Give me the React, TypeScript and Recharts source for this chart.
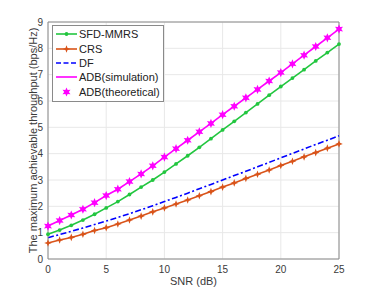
import {
  LineChart,
  Line,
  XAxis,
  YAxis,
  CartesianGrid,
  ReferenceLine,
} from "recharts";

const snr = [0, 1, 2, 3, 4, 5, 6, 7, 8, 9, 10, 11, 12, 13, 14, 15, 16, 17, 18, 19, 20, 21, 22, 23, 24, 25];

const sfdMmrs = [0.94, 1.1, 1.28, 1.48, 1.7, 1.94, 2.18, 2.45, 2.73, 3.0, 3.3, 3.61, 3.92, 4.24, 4.57, 4.9, 5.23, 5.56, 5.89, 6.22, 6.55, 6.87, 7.19, 7.52, 7.84, 8.16];
const crs = [0.61, 0.72, 0.82, 0.94, 1.08, 1.19, 1.33, 1.48, 1.63, 1.79, 1.94, 2.09, 2.24, 2.4, 2.56, 2.73, 2.89, 3.06, 3.22, 3.38, 3.55, 3.71, 3.88, 4.04, 4.21, 4.37];
const df = [0.81, 0.93, 1.05, 1.18, 1.31, 1.44, 1.58, 1.72, 1.87, 2.02, 2.18, 2.34, 2.5, 2.67, 2.83, 3.0, 3.17, 3.33, 3.5, 3.67, 3.84, 4.01, 4.18, 4.35, 4.51, 4.68];
const adbSim = [1.25, 1.46, 1.67, 1.89, 2.14, 2.41, 2.65, 2.94, 3.23, 3.54, 3.87, 4.19, 4.51, 4.83, 5.15, 5.48, 5.8, 6.12, 6.44, 6.76, 7.08, 7.41, 7.74, 8.07, 8.4, 8.73];
const adbTheory = [1.25, 1.46, 1.67, 1.89, 2.14, 2.41, 2.65, 2.94, 3.23, 3.54, 3.87, 4.19, 4.51, 4.83, 5.15, 5.48, 5.8, 6.12, 6.44, 6.76, 7.08, 7.41, 7.74, 8.07, 8.4, 8.73];

const xTicks = [0, 5, 10, 15, 20, 25];
const yTicks = [0, 1, 2, 3, 4, 5, 6, 7, 8, 9];

const GREEN = "#22c63f";
const ORANGE = "#d95319";
const BLUE = "#0000ff";
const MAGENTA = "#ff00ff";
const AXIS = "#8a8a8a";
const TEXT = "#3a3a3a";
const FONT = '"Liberation Sans", Arial, sans-serif';

const data = snr.map((s, i) => ({
  snr: s,
  sfd: sfdMmrs[i],
  crs: crs[i],
  df: df[i],
  adbSim: adbSim[i],
  adbTheory: adbTheory[i],
}));

// star-ish polygon around (cx, cy)
const starPath = (cx: number, cy: number, n: number, ro: number, ri: number) => {
  const pts: string[] = [];
  for (let k = 0; k < n * 2; k++) {
    const r = k % 2 === 0 ? ro : ri;
    const a = -Math.PI / 2 + (k * Math.PI) / n;
    pts.push(`${(cx + r * Math.cos(a)).toFixed(2)},${(cy + r * Math.sin(a)).toFixed(2)}`);
  }
  return "M" + pts.join("L") + "Z";
};

const GreenDot = (p: any) => (
  <circle key={`g${p.index}`} cx={p.cx} cy={p.cy} r={1.9} fill={GREEN} stroke="none" />
);
const OrangeMark = (p: any) => (
  <path key={`o${p.index}`} d={starPath(p.cx, p.cy, 4, 3.8, 1.5)} fill={ORANGE} stroke="none" />
);
const MagentaStar = (p: any) => (
  <path key={`m${p.index}`} d={starPath(p.cx, p.cy, 6, 4.6, 2.3)} fill={MAGENTA} stroke="none" />
);

const legendItems = [
  { name: "SFD-MMRS", color: GREEN, dash: undefined, line: true, mark: "dot" },
  { name: "CRS", color: ORANGE, dash: undefined, line: true, mark: "diamond" },
  { name: "DF", color: BLUE, dash: "5 2.5", line: true, mark: "" },
  { name: "ADB(simulation)", color: MAGENTA, dash: undefined, line: true, mark: "" },
  { name: "ADB(theoretical)", color: MAGENTA, dash: undefined, line: false, mark: "star" },
];

const LegendBox = () => (
  <div
    style={{
      position: "absolute",
      left: 52,
      top: 25,
      border: `1px solid ${AXIS}`,
      background: "#fff",
      padding: "1px 3px 2px 2px",
      fontFamily: FONT,
      fontSize: 11,
      color: "#222",
    }}
  >
    {legendItems.map((it) => (
      <div key={it.name} style={{ display: "flex", alignItems: "center", height: 14.4 }}>
        <svg width={23} height={10} style={{ marginRight: 1 }}>
          {it.line && (
            <line x1={1} y1={5} x2={22} y2={5} stroke={it.color} strokeWidth={1.6} strokeDasharray={it.dash} />
          )}
          {it.mark === "dot" && <circle cx={11.5} cy={5} r={1.9} fill={it.color} />}
          {it.mark === "diamond" && <path d={starPath(11.5, 5, 4, 3.8, 1.5)} fill={it.color} />}
          {it.mark === "star" && <path d={starPath(11.5, 5, 6, 4.6, 2.3)} fill={it.color} />}
        </svg>
        <span>{it.name}</span>
      </div>
    ))}
  </div>
);

const YLabel = (props: any) => {
  const vb = props.viewBox || { x: 0, y: 22, height: 237 };
  const cx = vb.x + 33;
  const cy = vb.y + vb.height / 2;
  return (
    <text
      x={cx}
      y={cy}
      transform={`rotate(-90 ${cx} ${cy})`}
      textAnchor="middle"
      dominantBaseline="central"
      fill={TEXT}
      fontSize={11}
      fontFamily={FONT}
    >
      The maximum achievable throughput (bps/Hz)
    </text>
  );
};

export default function App() {
  return (
    <div style={{ position: "absolute", left: 0, top: 0, width: 374, height: 288, background: "#fff" }}>
      <LineChart
        width={374}
        height={288}
        data={data}
        margin={{ top: 22, right: 35, left: 0, bottom: 0 }}
        style={{ fontFamily: FONT }}
      >
        <CartesianGrid stroke="#e8e8e8" strokeWidth={1} />
        <XAxis
          dataKey="snr"
          type="number"
          domain={[0, 25]}
          ticks={xTicks}
          height={29}
          tickSize={3}
          tickMargin={4}
          tickLine={false}
          axisLine={{ stroke: AXIS }}
          tick={{ fill: TEXT, fontSize: 10 }}
          label={{ value: "SNR (dB)", position: "insideBottom", offset: 3, fill: TEXT, fontSize: 11 }}
        />
        <YAxis
          type="number"
          domain={[0, 9]}
          ticks={yTicks}
          width={48}
          tickSize={3}
          tickMargin={2}
          tickLine={false}
          axisLine={{ stroke: AXIS }}
          tick={{ fill: TEXT, fontSize: 10 }}
          label={<YLabel />}
        />
        <ReferenceLine x={25} stroke={AXIS} />
        <ReferenceLine y={9} stroke={AXIS} />
        <Line
          dataKey="df"
          stroke={BLUE}
          strokeWidth={1.6}
          strokeDasharray="6 2.5 2 2.5"
          dot={false}
          isAnimationActive={false}
        />
        <Line
          dataKey="crs"
          stroke={ORANGE}
          strokeWidth={1.6}
          dot={OrangeMark}
          isAnimationActive={false}
        />
        <Line
          dataKey="sfd"
          stroke={GREEN}
          strokeWidth={1.6}
          dot={GreenDot}
          isAnimationActive={false}
        />
        <Line
          dataKey="adbSim"
          stroke={MAGENTA}
          strokeWidth={1.6}
          dot={false}
          isAnimationActive={false}
        />
        <Line
          dataKey="adbTheory"
          stroke="none"
          dot={MagentaStar}
          isAnimationActive={false}
        />
      </LineChart>
      <LegendBox />
    </div>
  );
}
